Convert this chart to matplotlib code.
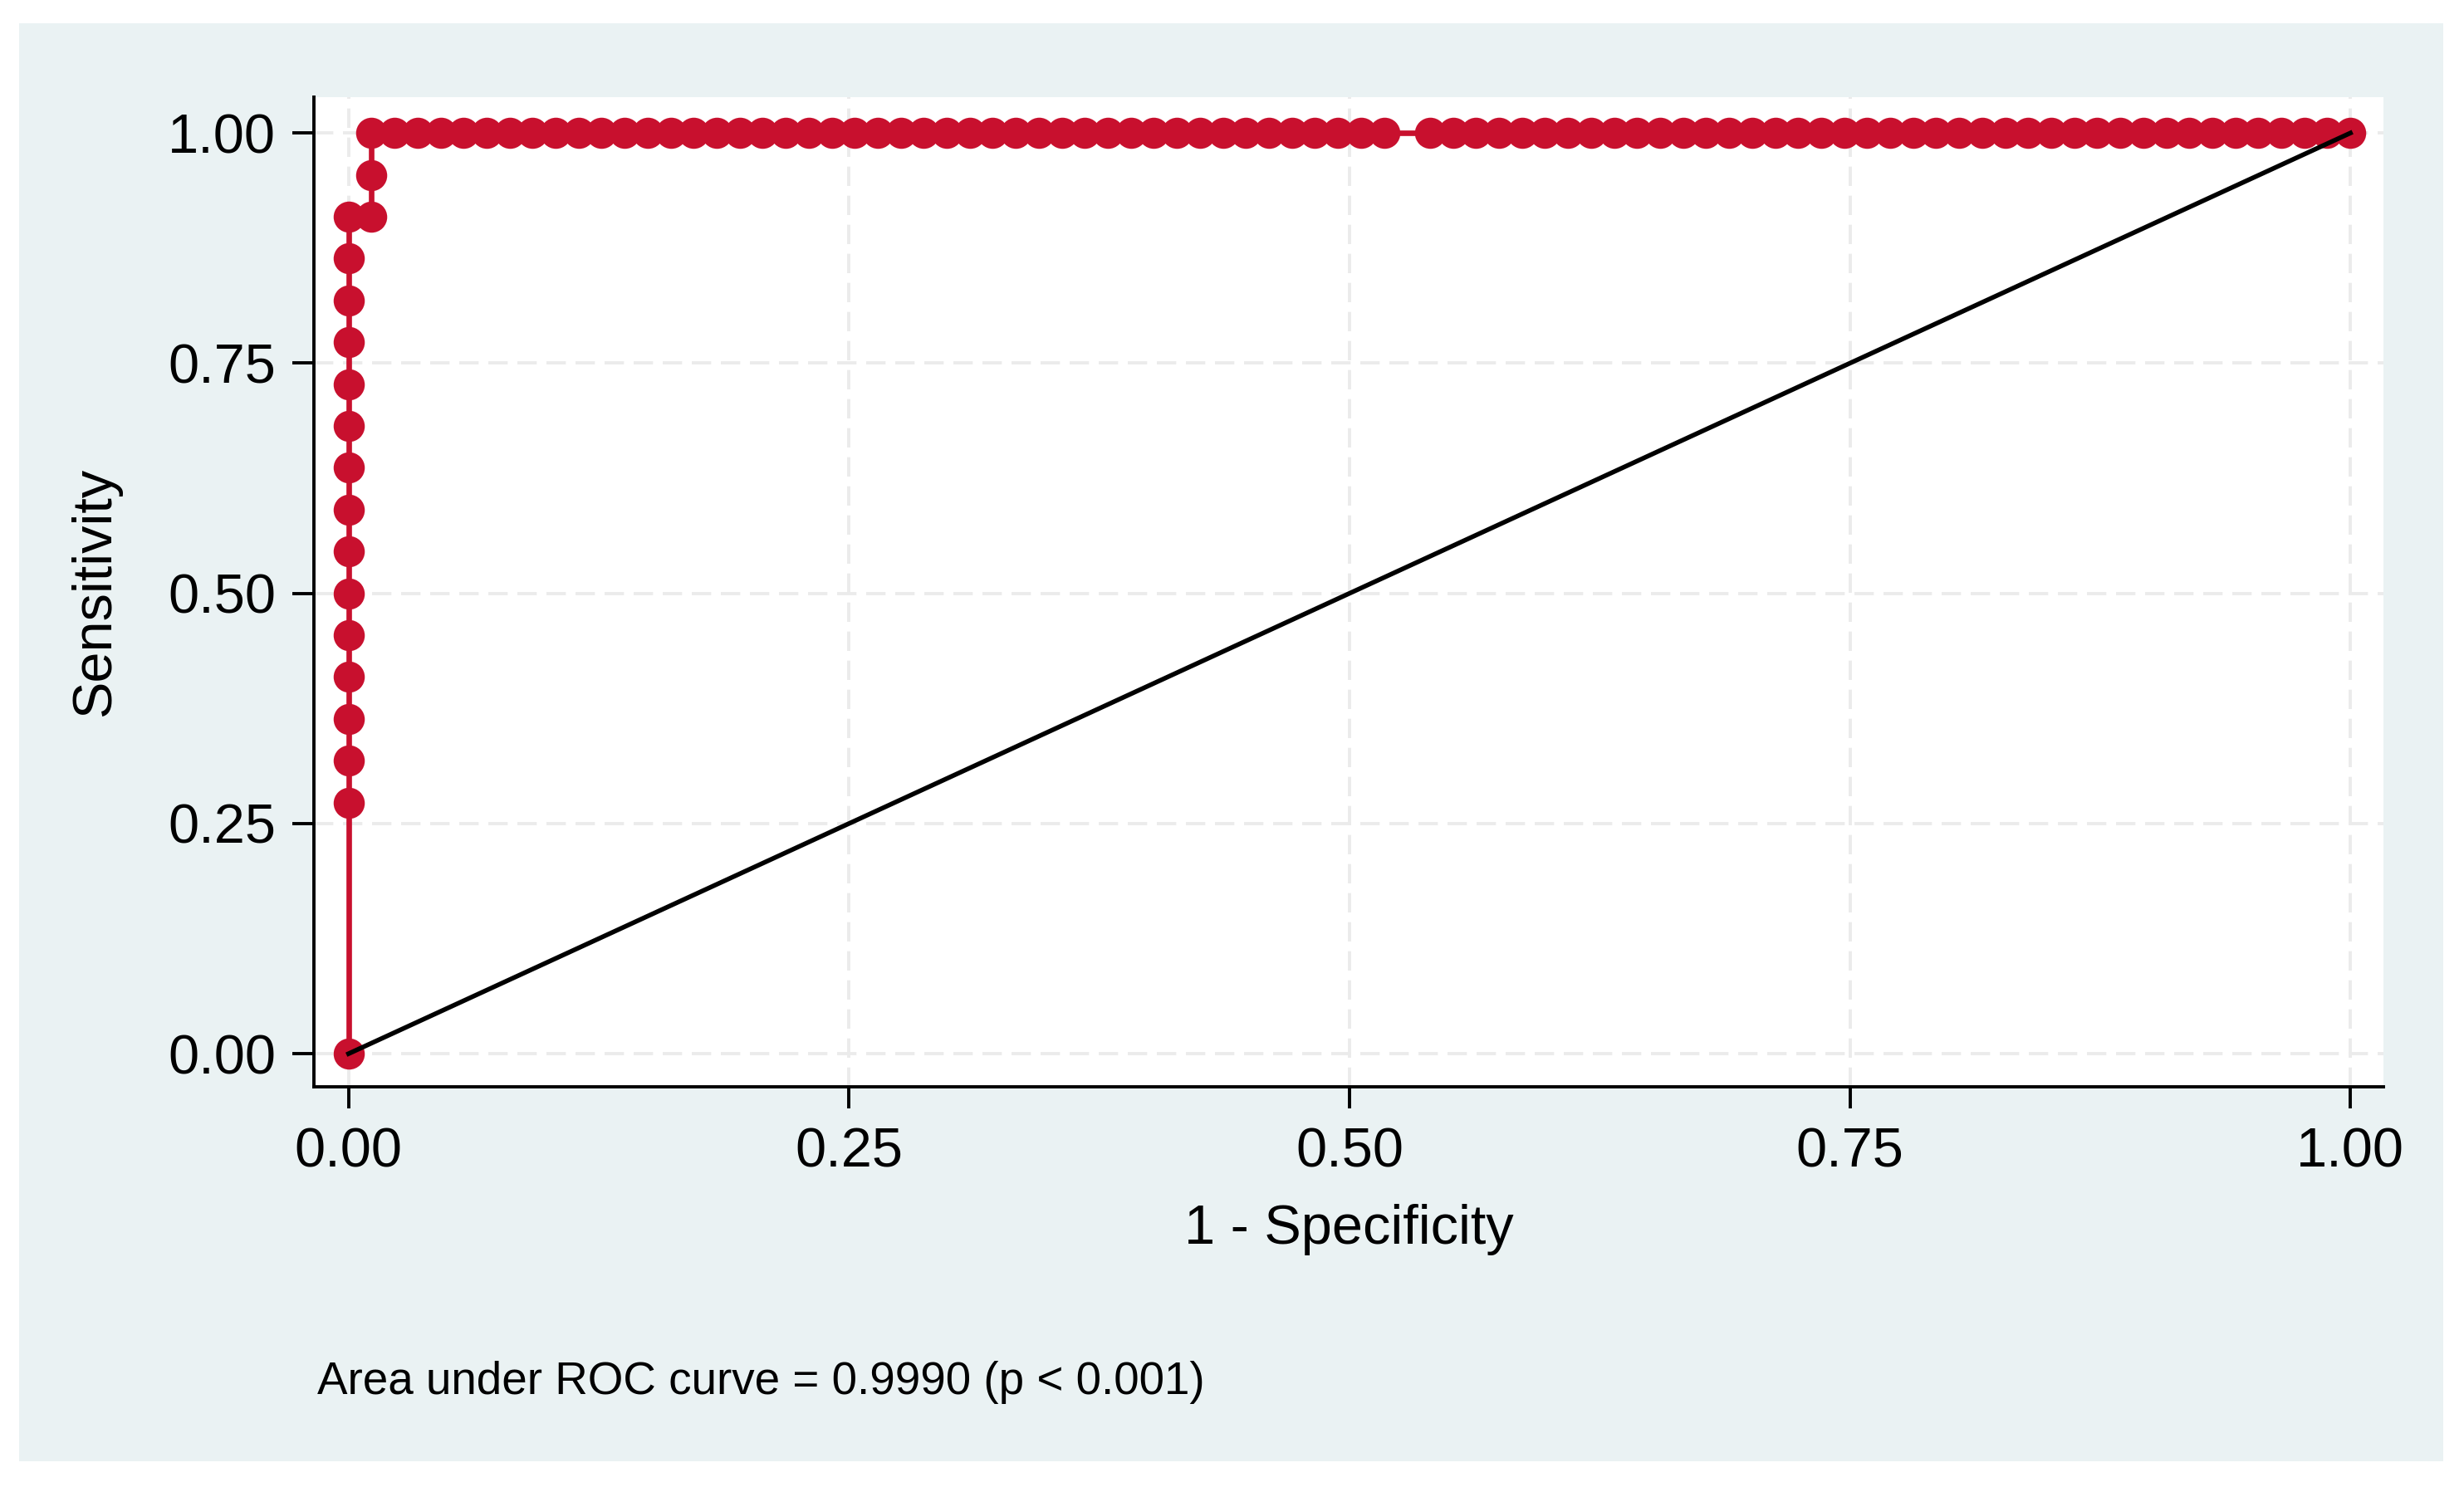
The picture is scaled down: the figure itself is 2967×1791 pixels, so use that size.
import matplotlib
matplotlib.use("Agg")
import matplotlib.pyplot as plt
from matplotlib.patches import Rectangle

plt.rcParams['font.family'] = ['Liberation Sans', 'DejaVu Sans']

# ROC points, as counts (87 negatives, 22 positives)
n_neg = 87
n_pos = 22
fp_counts = [0, 0, 0, 0, 0, 0, 0, 0, 0, 0, 0, 0, 0, 0, 0, 0,
             1, 1, 1,
             2, 3, 4, 5, 6, 7, 8, 9, 10, 11, 12, 13, 14, 15, 16, 17, 18, 19,
             20, 21, 22, 23, 24, 25, 26, 27, 28, 29, 30, 31, 32, 33, 34, 35,
             36, 37, 38, 39, 40, 41, 42, 43, 44, 45,
             47, 48, 49, 50, 51, 52, 53, 54, 55, 56, 57, 58, 59, 60, 61, 62,
             63, 64, 65, 66, 67, 68, 69, 70, 71, 72, 73, 74, 75, 76, 77, 78,
             79, 80, 81, 82, 83, 84, 85, 86, 87]
tp_counts = [0, 6, 7, 8, 9, 10, 11, 12, 13, 14, 15, 16, 17, 18, 19, 20,
             20, 21, 22] + [22] * 85

fpr = [c / n_neg for c in fp_counts]
tpr = [c / n_pos for c in tp_counts]

ref_x = [0, 1]
ref_y = [0, 1]
ticks = [0, 0.25, 0.5, 0.75, 1.0]
tick_labels = ['0.00', '0.25', '0.50', '0.75', '1.00']
auc_note = 'Area under ROC curve = 0.9990 (p < 0.001)'

red = '#C8102E'

fig = plt.figure(figsize=(14.835, 8.955), dpi=200)
fig.patch.set_facecolor('white')
# Stata-style light background panel
fig.patches.append(Rectangle((0.0078, 0.0173), 0.9838, 0.9671,
                             transform=fig.transFigure, facecolor='#EAF2F3',
                             edgecolor='none', zorder=-10))

ax = fig.add_axes([0.1274, 0.2691, 0.8399, 0.6656])
ax.set_zorder(1)
ax.set_facecolor('white')

ax.plot(fpr, tpr, color=red, lw=2.4, marker='o', markersize=13.5,
        markeredgewidth=0, zorder=3, clip_on=False)
ax.plot(ref_x, ref_y, color='black', lw=2.0, zorder=4)

ax.set_xlim(-0.0173, 1.0165)
ax.set_ylim(-0.036, 1.039)
ax.set_xticks(ticks)
ax.set_xticklabels(tick_labels)
ax.set_yticks(ticks)
ax.set_yticklabels(tick_labels)
ax.tick_params(labelsize=24, length=9.5, width=1.4, color='black')
ax.tick_params(axis='x', pad=8)
ax.tick_params(axis='y', pad=7)

ax.grid(True, color='#EBEBEB', linestyle=(0, (6, 3)), lw=1.4, zorder=0)
ax.set_axisbelow(True)

for side in ['top', 'right']:
    ax.spines[side].set_visible(False)
for side in ['left', 'bottom']:
    ax.spines[side].set_linewidth(1.4)

ax.set_xlabel('1 - Specificity', fontsize=24)
ax.set_ylabel('Sensitivity', fontsize=24)
ax.xaxis.set_label_coords(0.5, -0.118)
ax.yaxis.set_label_coords(-0.093, 0.5)

fig.text(0.1287, 0.0703, auc_note, fontsize=19.7, va='center', ha='left')

fig.savefig('out.png', dpi=200)
